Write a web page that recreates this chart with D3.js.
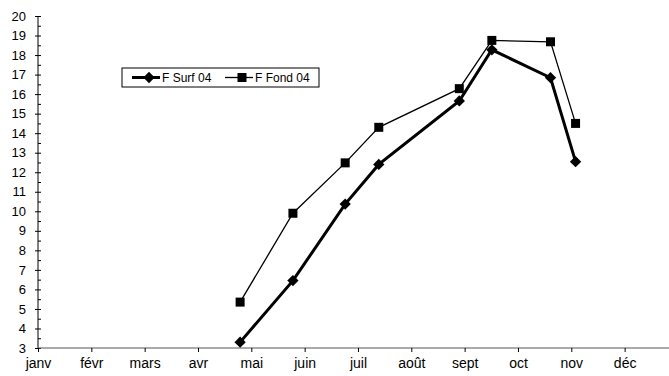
<!DOCTYPE html>
<html>
<head>
<meta charset="utf-8">
<script src="https://d3js.org/d3.v7.min.js"></script>
<style>
  body { margin: 0; background: #fff; }
  svg { display: block; font-family: "Liberation Sans", Arial, sans-serif; }
</style>
</head>
<body>
<div class="chart"></div>
<script>
// month labels on the x axis
const months = ["janv", "févr", "mars", "avr", "mai", "juin", "juil", "août", "sept", "oct", "nov", "déc"];
// sampling dates as month positions (0 = start of janv)
const sampleMonths = [3.79, 4.78, 5.76, 6.39, 7.90, 8.51, 9.61, 10.08];
const surf = [3.3, 6.45, 10.37, 12.4, 15.65, 18.27, 16.84, 12.54];
const fond = [5.35, 9.9, 12.48, 14.3, 16.28, 18.75, 18.68, 14.5];
const yTicks = d3.range(3, 21);
const seriesNames = ["F Surf 04", "F Fond 04"];

const width = 669, height = 376;
const margin = {top: 16, left: 38, bottom: 28};

const svg = d3.select(".chart")
    .append("svg")
    .attr("width", width)
    .attr("height", height);

// x spans a whole year, the last part runs off the picture
const x = d3.scaleLinear()
    .domain([0, 12])
    .range([margin.left, margin.left + 12 * 53.33]);

const y = d3.scaleLinear()
    .domain([3, 20])
    .range([height - margin.bottom, margin.top]);

// y axis with minor ticks on the inner side
svg.append("g")
    .attr("transform", "translate(" + margin.left + ",0)")
    .call(d3.axisRight(y).tickValues(d3.range(3.5, 20, 1)).tickSize(3).tickFormat(""))
    .call(g => g.select(".domain").remove());

const yAxis = svg.append("g")
    .attr("transform", "translate(" + margin.left + ",0)")
    .call(d3.axisLeft(y).tickValues(yTicks).tickSize(3).tickPadding(9).tickFormat(d3.format("d")));
yAxis.selectAll(".tick line").attr("x1", 3);
yAxis.select(".domain").attr("d", "M0," + y(3) + "V" + y(20));
yAxis.selectAll("text").attr("font-size", 13).attr("fill", "#000").attr("font-family", null);

// x axis
const xAxis = svg.append("g")
    .attr("transform", "translate(0," + y(3) + ")")
    .call(d3.axisBottom(x).tickValues(d3.range(0, 12)).tickSize(4).tickPadding(6)
        .tickFormat(i => months[i]));
xAxis.select(".domain").attr("d", "M" + x(0) + ",0H" + x(12)).attr("stroke", "#555");
xAxis.selectAll("text").attr("font-size", 14).attr("fill", "#000").attr("font-family", null);

const surfData = sampleMonths.map((m, i) => ({m: m, v: surf[i]}));
const fondData = sampleMonths.map((m, i) => ({m: m, v: fond[i]}));

const line = d3.line().x(d => x(d.m)).y(d => y(d.v));

svg.append("path")
    .datum(fondData)
    .attr("fill", "none")
    .attr("stroke", "#000")
    .attr("stroke-width", 1.3)
    .attr("d", line);

svg.append("path")
    .datum(surfData)
    .attr("fill", "none")
    .attr("stroke", "#000")
    .attr("stroke-width", 3)
    .attr("d", line);

const square = d3.symbol().type(d3.symbolSquare).size(81);
const diamond = d3.symbol().type(d3.symbolSquare).size(64);

svg.selectAll(".sq")
    .data(fondData)
    .enter()
    .append("path")
    .attr("class", "sq")
    .attr("d", square)
    .attr("transform", d => "translate(" + x(d.m) + "," + y(d.v) + ")");

svg.selectAll(".dm")
    .data(surfData)
    .enter()
    .append("path")
    .attr("class", "dm")
    .attr("d", diamond)
    .attr("transform", d => "translate(" + x(d.m) + "," + y(d.v) + ") rotate(45)");

// legend
const legend = svg.append("g").attr("transform", "translate(122,68)");
legend.append("rect")
    .attr("width", 197)
    .attr("height", 19)
    .attr("fill", "#fff")
    .attr("stroke", "#000");

const items = [
    {name: seriesNames[0], x0: 10, w: 3, sym: diamond, rot: 45},
    {name: seriesNames[1], x0: 103, w: 1.3, sym: square, rot: 0}
];
items.forEach(it => {
    legend.append("line")
        .attr("x1", it.x0).attr("x2", it.x0 + 28)
        .attr("y1", 9.5).attr("y2", 9.5)
        .attr("stroke", "#000").attr("stroke-width", it.w);
    legend.append("path")
        .attr("d", it.sym)
        .attr("transform", "translate(" + (it.x0 + 17) + ",9.5) rotate(" + it.rot + ")");
    legend.append("text")
        .attr("x", it.x0 + 30)
        .attr("y", 14)
        .attr("font-size", 12)
        .text(it.name);
});
</script>
</body>
</html>
